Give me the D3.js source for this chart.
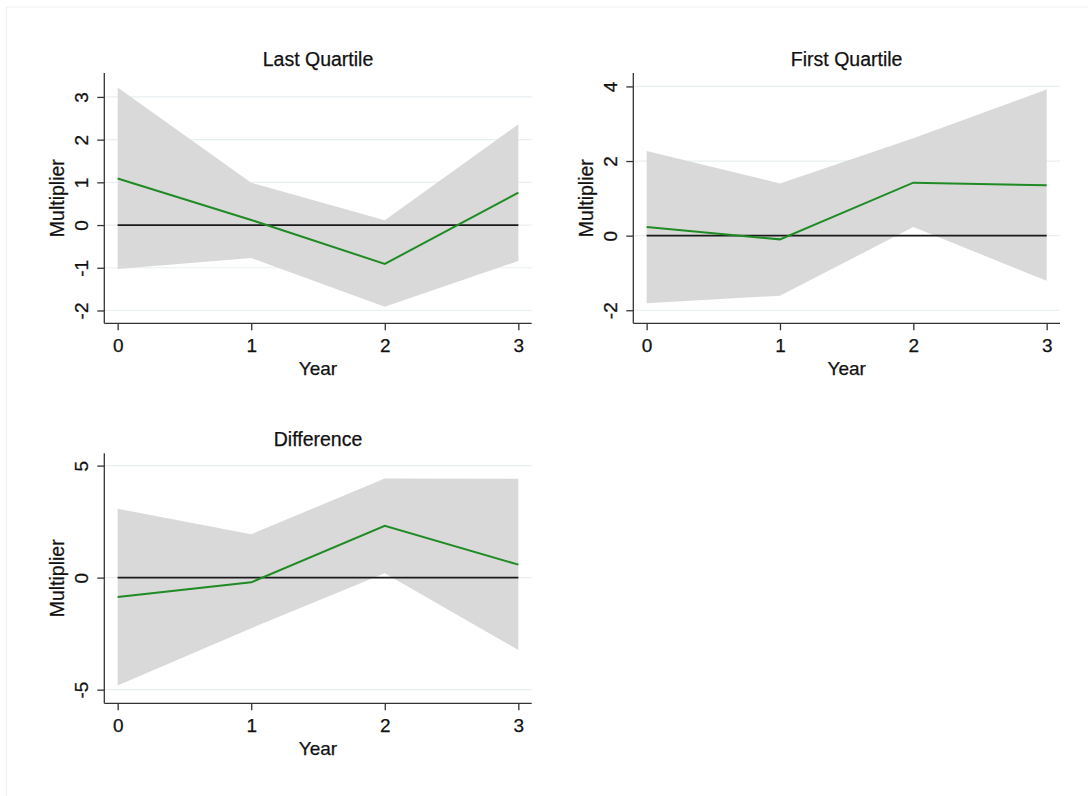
<!DOCTYPE html>
<html>
<head>
<meta charset="utf-8">
<script src="https://cdn.jsdelivr.net/npm/d3@7/dist/d3.min.js"></script>
<style>
  html, body { margin: 0; padding: 0; background: #fff; }
  svg { display: block; }
  text { font-family: "Liberation Sans", Arial, Helvetica, sans-serif; fill: #111; stroke: #111; stroke-width: 0.25px; }
</style>
</head>
<body>
<svg id="chart" width="1088" height="796"></svg>
<script>
// ---------- data ----------
const years = [0, 1, 2, 3];

const lastEstimate = [1.09, 0.12, -0.91, 0.76];
const lastUpper    = [3.22, 0.99, 0.11, 2.36];
const lastLower    = [-1.03, -0.77, -1.91, -0.84];
const lastTicks    = [-2, -1, 0, 1, 2, 3];

const firstEstimate = [0.23, -0.10, 1.42, 1.35];
const firstUpper    = [2.27, 1.40, 2.61, 3.92];
const firstLower    = [-1.81, -1.61, 0.23, -1.21];
const firstTicks    = [-2, 0, 2, 4];

const diffEstimate = [-0.87, -0.21, 2.31, 0.58];
const diffUpper    = [3.07, 1.94, 4.42, 4.41];
const diffLower    = [-4.82, -2.26, 0.19, -3.23];
const diffTicks    = [-5, 0, 5];

const xTicks = [0, 1, 2, 3];

const panelTitles = ["Last Quartile", "First Quartile", "Difference"];
const xTitle = "Year";
const yTitle = "Multiplier";

// ---------- layout ----------
const panels = [
  { title: panelTitles[0], est: lastEstimate, up: lastUpper, lo: lastLower, ticks: lastTicks,
    x0: 104.3, x1: 531.7, y0: 73, y1: 323.3, yDom: [-2.30, 3.56] },
  { title: panelTitles[1], est: firstEstimate, up: firstUpper, lo: firstLower, ticks: firstTicks,
    x0: 633.3, x1: 1060, y0: 73, y1: 323.3, yDom: [-2.35, 4.36] },
  { title: panelTitles[2], est: diffEstimate, up: diffUpper, lo: diffLower, ticks: diffTicks,
    x0: 104.3, x1: 531.7, y0: 453.3, y1: 703.3, yDom: [-5.61, 5.55] }
];

const svg = d3.select("#chart");

// faint outer frame
svg.append("rect")
  .attr("x", 6.5).attr("y", 7).attr("width", 1100).attr("height", 800)
  .attr("fill", "none").attr("stroke", "#efefef").attr("stroke-width", 1);

panels.forEach(p => {
  const x = d3.scaleLinear().domain([-0.1, 3.1]).range([p.x0, p.x1]);
  const y = d3.scaleLinear().domain(p.yDom).range([p.y1, p.y0]);
  const g = svg.append("g");

  // gridlines
  g.selectAll("line.grid").data(p.ticks).join("line")
    .attr("class", "grid")
    .attr("x1", p.x0).attr("x2", p.x1)
    .attr("y1", d => y(d)).attr("y2", d => y(d))
    .attr("stroke", "#e8f0f2").attr("stroke-width", 1.2);

  const data = years.map((yr, i) => ({ yr, est: p.est[i], up: p.up[i], lo: p.lo[i] }));

  // confidence band
  g.append("path").datum(data)
    .attr("d", d3.area().x(d => x(d.yr)).y0(d => y(d.lo)).y1(d => y(d.up)))
    .attr("fill", "#d9d9d9");

  // zero reference line
  g.append("path").datum(years)
    .attr("d", d3.line().x(d => x(d)).y(() => y(0)))
    .attr("fill", "none").attr("stroke", "#1a1a1a").attr("stroke-width", 1.8);

  // estimate line
  g.append("path").datum(data)
    .attr("d", d3.line().x(d => x(d.yr)).y(d => y(d.est)))
    .attr("fill", "none").attr("stroke", "#1f8b24").attr("stroke-width", 2);

  // y axis
  const yAxis = g.append("g").attr("transform", `translate(${p.x0},0)`)
    .call(d3.axisLeft(y).tickValues(p.ticks).tickSize(7).tickSizeOuter(0).tickFormat(d3.format("d")));
  yAxis.select(".domain").attr("stroke", "#333").attr("stroke-width", 1.3)
    .attr("d", `M0,${p.y0}V${p.y1}`);
  yAxis.selectAll(".tick line").attr("stroke", "#333").attr("stroke-width", 1.3);
  yAxis.selectAll(".tick text")
    .attr("x", null).attr("dy", null)
    .attr("transform", "translate(-16,0) rotate(-90)")
    .attr("text-anchor", "middle")
    .style("font-size", "19px").style("fill", "#111")
    .text(d => d < 0 ? "-" + Math.abs(d) : d);

  // x axis
  const xAxis = g.append("g").attr("transform", `translate(0,${p.y1})`)
    .call(d3.axisBottom(x).tickValues(xTicks).tickSize(7).tickSizeOuter(0).tickFormat(d3.format("d")));
  xAxis.select(".domain").attr("stroke", "#333").attr("stroke-width", 1.3)
    .attr("d", `M${p.x0},0H${p.x1}`);
  xAxis.selectAll(".tick text")
    .attr("y", 28.5).attr("dy", null)
    .style("font-size", "19px").style("fill", "#111");
  xAxis.selectAll(".tick line").attr("stroke", "#333").attr("stroke-width", 1.3);

  const cx = (p.x0 + p.x1) / 2;
  const cy = (p.y0 + p.y1) / 2;

  // title
  g.append("text").attr("x", cx).attr("y", p.y0 - 7)
    .attr("text-anchor", "middle").style("font-size", "19.5px").text(p.title);

  // x title
  g.append("text").attr("x", cx).attr("y", p.y1 + 52)
    .attr("text-anchor", "middle").style("font-size", "19px").text(xTitle);

  // y title
  g.append("text")
    .attr("transform", `translate(${p.x0 - 40.3},${cy}) rotate(-90)`)
    .attr("text-anchor", "middle").style("font-size", "19.5px").text(yTitle);
});
</script>
</body>
</html>
